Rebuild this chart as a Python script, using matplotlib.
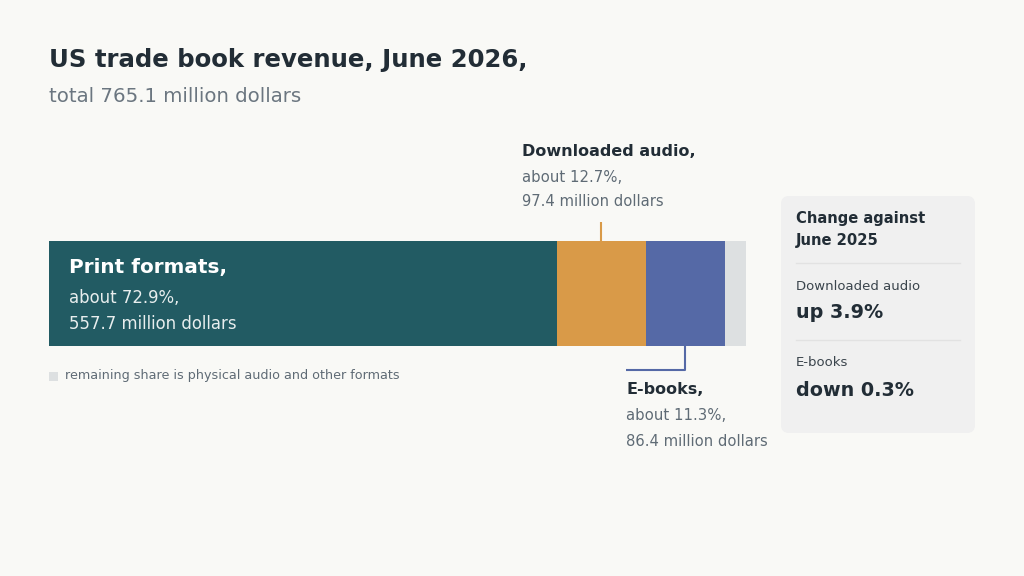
import matplotlib
matplotlib.use("Agg")
import matplotlib.pyplot as plt
from matplotlib.patches import FancyBboxPatch, Rectangle

plt.rcParams['font.family'] = ['DejaVu Sans']

# ---- data ----
total = 765.1
segments = ["Print formats", "Downloaded audio", "E-books", "Other"]
values = [557.7, 97.4, 86.4, 765.1 - 557.7 - 97.4 - 86.4]
shares = [72.9, 12.7, 11.3]
seg_colors = ["#225b63", "#d99a48", "#5569a6", "#dde0e1"]
change_labels = ["Downloaded audio", "E-books"]
change_values = ["up 3.9%", "down 0.3%"]

BG = "#f9f9f6"
DARK = "#222d36"
GREY = "#5f6b75"

fig = plt.figure(figsize=(10.24, 5.76), dpi=100, facecolor=BG)

# bar axes
bx = fig.add_axes([49 / 1024, (576 - 346) / 576, 697 / 1024, 105 / 576])
bx.set_xlim(0, total)
bx.set_ylim(0, 1)
bx.axis("off")
bx.set_zorder(1)
left = 0
starts = []
for v, c in zip(values, seg_colors):
    bx.barh(0.5, v, left=left, height=1.0, color=c, edgecolor="none")
    starts.append(left)
    left += v

# leaders
px_y = 1 / 105.0
audio_c = starts[1] + values[1] / 2
bx.plot([audio_c, audio_c], [1, 1 + 19 * px_y], color=seg_colors[1], lw=1.5,
        clip_on=False, solid_capstyle="butt")
ebook_c = starts[2] + values[2] / 2
px_x = total / 697.0
ebook_left = starts[2] - 20 * px_x
bx.plot([ebook_c, ebook_c, ebook_left], [0, -24 * px_y, -24 * px_y],
        color=seg_colors[2], lw=1.5, clip_on=False, solid_capstyle="butt")

# overlay axes in pixel coordinates for text/layout
ov = fig.add_axes([0, 0, 1, 1])
ov.set_xlim(0, 1024)
ov.set_ylim(576, 0)
ov.axis("off")
ov.patch.set_alpha(0)
ov.set_zorder(2)

# title
ov.text(49, 60, "US trade book revenue, June 2026,", fontsize=17.6,
        fontweight="bold", color=DARK, va="center", ha="left")
ov.text(49, 96, f"total {total:.1f} million dollars", fontsize=14.2,
        color="#6b7680", va="center", ha="left")

# print label inside bar
ov.text(69, 268, f"{segments[0]},", fontsize=14.4, fontweight="bold",
        color="white", va="center")
ov.text(69, 298, f"about {shares[0]}%,", fontsize=11.9, color="#e8eeee", va="center")
ov.text(69, 324, f"{values[0]:.1f} million dollars", fontsize=11.9,
        color="#e8eeee", va="center")

# audio label
ov.text(522, 152, f"{segments[1]},", fontsize=11.5, fontweight="bold",
        color=DARK, va="center")
ov.text(522, 178, f"about {shares[1]}%,", fontsize=10.7, color=GREY, va="center")
ov.text(522, 202, f"{values[1]:.1f} million dollars", fontsize=10.6,
        color=GREY, va="center")

# e-books label
ov.text(626, 390, f"{segments[2]},", fontsize=11.5, fontweight="bold",
        color=DARK, va="center")
ov.text(626, 416, f"about {shares[2]}%,", fontsize=10.7, color=GREY, va="center")
ov.text(626, 441, f"{values[2]:.1f} million dollars", fontsize=10.6,
        color=GREY, va="center")

# legend note
ov.add_patch(Rectangle((49, 372), 9, 9, facecolor=seg_colors[3], edgecolor="none"))
ov.text(65, 376, "remaining share is physical audio and other formats",
        fontsize=9.15, color=GREY, va="center")

# change panel
ov.add_patch(FancyBboxPatch((781, 196), 194, 237,
                            boxstyle="round,pad=0,rounding_size=8",
                            facecolor="#f0f0f0", edgecolor="none"))
ov.text(796, 218, "Change against", fontsize=10.6, fontweight="bold",
        color=DARK, va="center")
ov.text(796, 240, "June 2025", fontsize=10.6, fontweight="bold",
        color=DARK, va="center")
ov.plot([796, 960], [263, 263], color="#e2e2e2", lw=1)
ov.text(796, 286, change_labels[0], fontsize=9.5, color="#3a444c", va="center")
ov.text(796, 313, change_values[0], fontsize=13.8, fontweight="bold",
        color=DARK, va="center")
ov.plot([796, 960], [340, 340], color="#e2e2e2", lw=1)
ov.text(796, 363, change_labels[1], fontsize=9.5, color="#3a444c", va="center")
ov.text(796, 390, change_values[1], fontsize=13.8, fontweight="bold",
        color=DARK, va="center")

fig.savefig("out.png", dpi=100, facecolor=BG)
